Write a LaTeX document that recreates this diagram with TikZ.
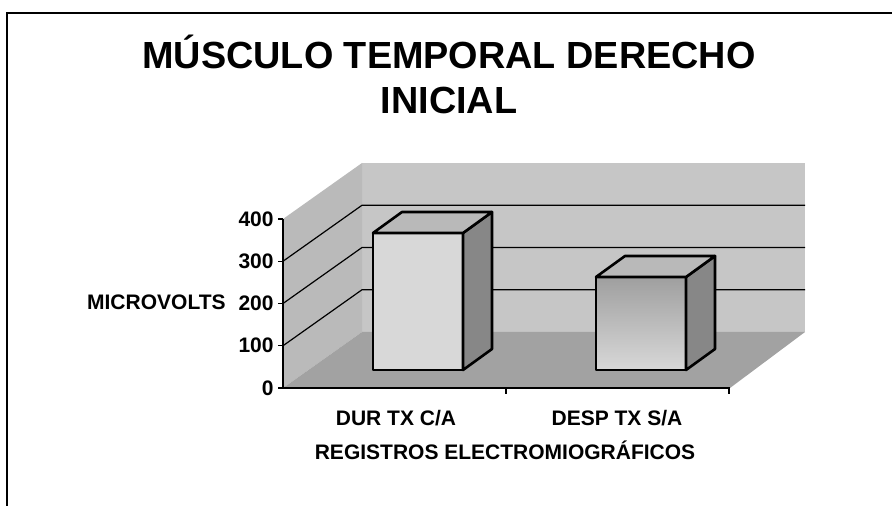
\documentclass[tikz,border=0pt]{standalone}
\usepackage{fontspec}
\setmainfont{Liberation Sans}
\usepackage{tikz}
\definecolor{grispared}{RGB}{198,198,198}
\definecolor{grismuro}{RGB}{186,186,186}
\definecolor{grispiso}{RGB}{162,162,162}
\definecolor{grisfrente}{RGB}{216,216,216}
\definecolor{grislado}{RGB}{135,135,135}
\definecolor{gristapa}{RGB}{185,185,185}
\tikzset{titulo/.style={font=\fontsize{18.9}{22}\selectfont\bfseries, inner sep=0pt},
  rotulo/.style={font=\fontsize{10.5}{12}\selectfont\bfseries, inner sep=0pt},
  barra/.style={draw=black, line width=1.3pt, line join=round},
  rejilla/.style={line width=0.6pt}}

\begin{document}
\begin{tikzpicture}[x=0.5pt,y=-0.5pt]
		\useasboundingbox (0,0) rectangle (892,506);
		\draw[line width=1pt] (892,13) -- (7,13) -- (7,506);

		\node[titulo, anchor=base] (titulo) at (449,69) {MÚSCULO TEMPORAL DERECHO};
		\node[titulo, anchor=base] (subtitulo) at (449,114) {INICIAL};

		% paredes y piso
		\fill[grispared] (362,332) -- (362,163) -- (805,163) -- (805,332) -- cycle;
		\fill[grismuro] (283,388) -- (283,219) -- (362,163) -- (362,332) -- cycle;
		\fill[grispiso] (283,388) -- (730,388) -- (805,332) -- (362,332) -- cycle;

		\draw[rejilla] (283,345.75) -- (362,289.75) -- (805,289.75);
		\draw[rejilla] (283,303.5) -- (362,247.5) -- (805,247.5);
		\draw[rejilla] (283,261.25) -- (362,205.25) -- (805,205.25);

		% ejes
		\draw[rejilla] (283,388) -- (283,219);
		\draw[rejilla] (283,388) -- (730,388);
		\draw[rejilla] (278,388) -- (283,388);
		\draw[rejilla] (278,345.75) -- (283,345.75);
		\draw[rejilla] (278,303.5) -- (283,303.5);
		\draw[rejilla] (278,261.25) -- (283,261.25);
		\draw[rejilla] (278,219) -- (283,219);
		\draw[rejilla] (506,388) -- (506,394);
		\draw[rejilla] (729,388) -- (729,394);

		\node[rotulo, anchor=east] (cero) at (274,388) {0};
		\node[rotulo, anchor=east] (cien) at (274,345.75) {100};
		\node[rotulo, anchor=east] (doscientos) at (274,303.5) {200};
		\node[rotulo, anchor=east] (trescientos) at (274,261.25) {300};
		\node[rotulo, anchor=east] (cuatrocientos) at (274,219) {400};
		\node[rotulo, anchor=east] (microvolts) at (226,302) {MICROVOLTS};

		% barras
		\draw[barra, fill=grisfrente] (373,370) rectangle (463,233);
		\draw[barra, fill=grislado] (463,370) -- (492,349) -- (492,212) -- (463,233) -- cycle;
		\draw[barra, fill=gristapa] (373,233) -- (402,212) -- (492,212) -- (463,233) -- cycle;

		\draw[barra, top color=grislado!80!white, bottom color=grisfrente] (596,370) rectangle (686,277);
		\draw[barra, fill=grislado] (686,370) -- (715,349) -- (715,256) -- (686,277) -- cycle;
		\draw[barra, fill=gristapa] (596,277) -- (625,256) -- (715,256) -- (686,277) -- cycle;

		\node[rotulo, anchor=base] (durtx) at (396,426) {DUR TX C/A};
		\node[rotulo, anchor=base] (desptx) at (617,426) {DESP TX S/A};
		\node[rotulo, anchor=base] (registros) at (505,459) {REGISTROS ELECTROMIOGRÁFICOS};

	\end{tikzpicture}
\end{document}
